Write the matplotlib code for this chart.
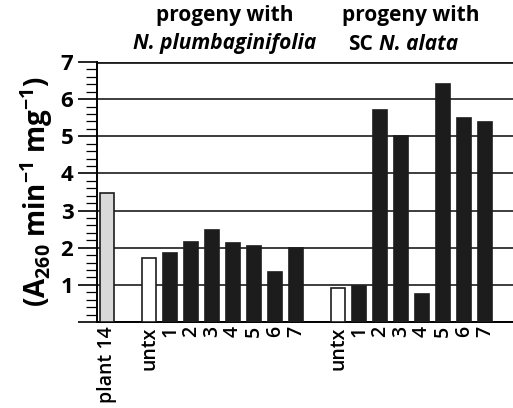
import numpy as np
import matplotlib
matplotlib.use("Agg")
import matplotlib.pyplot as plt
from matplotlib.ticker import MultipleLocator

plt.rcParams['font.family'] = ['Open Sans', 'DejaVu Sans']
plt.rcParams['mathtext.default'] = 'regular'

# data
labels = ["plant 14",
          "untx", "1", "2", "3", "4", "5", "6", "7",
          "untx", "1", "2", "3", "4", "5", "6", "7"]
values = [3.46,
          1.72, 1.86, 2.15, 2.48, 2.12, 2.05, 1.34, 1.98,
          0.91, 0.96, 5.72, 5.0, 0.75, 6.42, 5.48, 5.38]
kinds = ["plant"] + ["untx"] + ["prog"] * 7 + ["untx"] + ["prog"] * 7
positions = [0, 2, 3, 4, 5, 6, 7, 8, 9, 11, 12, 13, 14, 15, 16, 17, 18]

face = {"plant": "#d9d9d9", "untx": "white", "prog": "#1c1c1c"}

W, H = 513, 408
fig = plt.figure(figsize=(W / 100, H / 100), dpi=100)
ax = fig.add_axes([97 / W, 1 - 322 / H, (W - 97) / W, (322 - 62) / H])

ax.bar(positions, values, width=0.7,
       color=[face[k] for k in kinds], edgecolor="#1c1c1c", linewidth=1.2,
       zorder=3)

ax.set_ylim(0, 7)
ax.set_xlim(-0.48, 19.33)
ax.yaxis.set_major_locator(MultipleLocator(1))
ax.yaxis.set_minor_locator(MultipleLocator(0.2))
ax.set_yticklabels(["" if v == 0 else str(int(v)) for v in ax.get_yticks()],
                   fontsize=16, fontweight="bold")
ax.tick_params(axis="y", which="major", length=14, width=1.2, pad=3)
ax.tick_params(axis="y", which="minor", length=8, width=0.9)

ax.set_xticks(positions)
ax.set_xticklabels(labels, rotation=90, fontsize=14, fontweight="semibold")
ax.tick_params(axis="x", length=0, pad=3)

ax.set_axisbelow(True)
ax.yaxis.grid(True, which="major", color="#1c1c1c", linewidth=1.2)
for s in ["top", "right"]:
    ax.spines[s].set_visible(False)
ax.spines["left"].set_linewidth(1.4)
ax.spines["bottom"].set_linewidth(1.4)
ax.axhline(7, color="#1c1c1c", linewidth=2, zorder=1)

ax.set_ylabel(r"(A$_{260}$ min$^{-1}$ mg$^{-1}$)", fontsize=20, fontweight="bold",
              labelpad=4)

# group headers
fig.text(225 / W, 1 - 15 / H, "progeny with", ha="center", va="center",
         fontsize=15, fontweight="bold")
fig.text(225 / W, 1 - 44 / H, "N. plumbaginifolia", ha="center", va="center",
         fontsize=15, fontweight="bold", style="italic")
fig.text(411 / W, 1 - 15 / H, "progeny with", ha="center", va="center",
         fontsize=15, fontweight="bold")
fig.text(373 / W, 1 - 44 / H, "SC", ha="right", va="center",
         fontsize=15, fontweight="bold")
fig.text(379 / W, 1 - 44 / H, "N. alata", ha="left", va="center",
         fontsize=15, fontweight="bold", style="italic")

fig.savefig("out.png", dpi=100)
